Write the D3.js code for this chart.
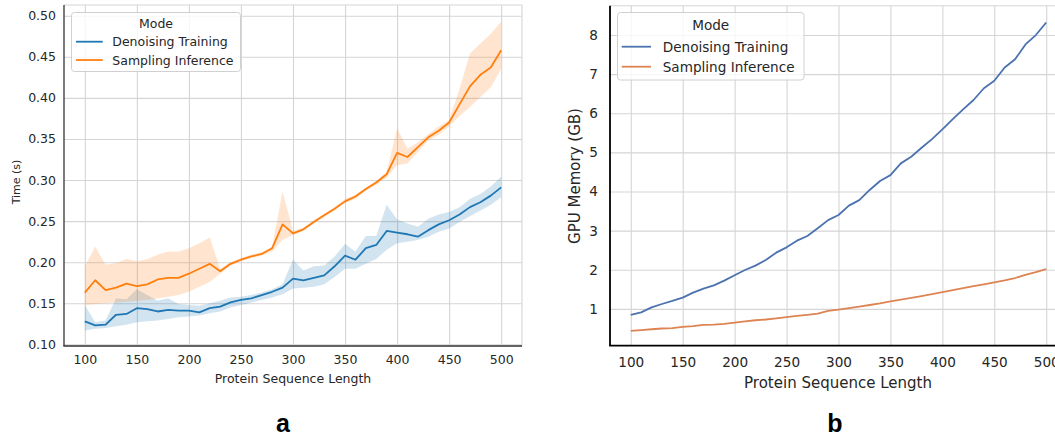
<!DOCTYPE html>
<html><head><meta charset="utf-8">
<script src="https://cdn.jsdelivr.net/npm/d3@7"></script>
<style>body{margin:0;background:#fff} svg{display:block}</style>
</head><body><svg id="c" width="1055" height="433"></svg>
<script>
// ---------------- data ----------------
const lengths = [100,110,120,130,140,150,160,170,180,190,200,210,220,230,240,250,260,270,280,290,300,
                 310,320,330,340,350,360,370,380,390,400,410,420,430,440,450,460,470,480,490,500];
const modes = ["Denoising Training", "Sampling Inference"];

// panel a: time (s), mean and 95% band
const timeTrainMean = [0.128,0.123,0.124,0.136,0.137,0.144,0.143,0.140,0.142,0.141,0.141,0.139,0.144,0.146,0.151,0.154,0.156,0.160,0.164,0.169,0.180,
                       0.178,0.181,0.184,0.195,0.208,0.203,0.217,0.221,0.238,0.236,0.234,0.231,0.239,0.246,0.251,0.258,0.267,0.273,0.281,0.291];
const timeTrainLow  = [0.117,0.119,0.120,0.122,0.124,0.127,0.128,0.129,0.131,0.133,0.134,0.135,0.138,0.140,0.145,0.148,0.151,0.154,0.157,0.161,0.168,
                       0.169,0.170,0.173,0.182,0.192,0.192,0.198,0.204,0.215,0.223,0.225,0.227,0.231,0.237,0.241,0.249,0.256,0.263,0.270,0.279];
const timeTrainHigh = [0.148,0.127,0.129,0.156,0.155,0.167,0.160,0.153,0.156,0.149,0.148,0.147,0.150,0.153,0.157,0.158,0.160,0.163,0.167,0.173,0.203,
                       0.190,0.195,0.196,0.207,0.222,0.213,0.232,0.232,0.270,0.252,0.247,0.243,0.253,0.258,0.261,0.267,0.277,0.283,0.292,0.304];
const timeInferMean = [0.163,0.178,0.166,0.169,0.174,0.171,0.173,0.179,0.181,0.181,0.186,0.192,0.198,0.189,0.198,0.203,0.207,0.210,0.217,0.246,0.235,
                       0.240,0.249,0.257,0.265,0.274,0.280,0.289,0.297,0.307,0.333,0.328,0.340,0.352,0.360,0.370,0.392,0.414,0.428,0.437,0.458];
const timeInferLow  = [0.148,0.149,0.150,0.151,0.152,0.153,0.154,0.156,0.158,0.160,0.164,0.170,0.176,0.186,0.196,0.201,0.205,0.208,0.213,0.227,0.233,
                       0.238,0.247,0.255,0.263,0.272,0.277,0.287,0.294,0.303,0.318,0.320,0.334,0.348,0.355,0.365,0.378,0.389,0.401,0.413,0.435];
const timeInferHigh = [0.195,0.219,0.197,0.199,0.204,0.201,0.204,0.209,0.213,0.213,0.217,0.223,0.230,0.192,0.200,0.205,0.209,0.212,0.219,0.286,0.238,
                       0.242,0.251,0.259,0.267,0.277,0.282,0.291,0.299,0.310,0.363,0.338,0.346,0.356,0.365,0.373,0.411,0.454,0.466,0.478,0.493];

// panel b: GPU memory (GB)
const memTrain = [0.845,0.913,1.041,1.126,1.203,1.288,1.416,1.518,1.603,1.722,1.859,1.995,2.106,2.250,2.438,2.574,2.744,2.864,3.060,3.270,3.400,
                  3.640,3.780,4.040,4.270,4.420,4.720,4.890,5.120,5.340,5.590,5.850,6.100,6.340,6.640,6.830,7.170,7.380,7.760,8.000,8.320];
const memInfer = [0.440,0.460,0.480,0.500,0.510,0.540,0.560,0.590,0.600,0.620,0.650,0.680,0.710,0.730,0.760,0.790,0.820,0.850,0.880,0.950,0.980,
                  1.020,1.060,1.100,1.140,1.190,1.240,1.280,1.330,1.380,1.430,1.480,1.530,1.580,1.630,1.680,1.730,1.790,1.870,1.940,2.020];

const lengthTicks = [100,150,200,250,300,350,400,450,500];
const timeTicks = [0.10,0.15,0.20,0.25,0.30,0.35,0.40,0.45,0.50];
const memTicks = [1,2,3,4,5,6,7,8];

// ---------------- drawing ----------------
const svg = d3.select("#c");
const FONT = "DejaVu Sans";
const TXT = "#262626";
const GRID = "#d5d5d5";

function panel(o) {
  const g = svg.append("g");
  const x = d3.scaleLinear().domain([80, 520]).range([o.x0, o.x1]);
  const y = d3.scaleLinear().domain(o.ydom).range([o.y1, o.y0]);
  const clipId = "clip" + o.id;
  svg.append("clipPath").attr("id", clipId).append("rect")
    .attr("x", o.x0).attr("y", o.y0).attr("width", o.x1 - o.x0).attr("height", o.y1 - o.y0);

  // grid
  g.append("g").attr("transform", `translate(0,${o.y1})`)
    .call(d3.axisBottom(x).tickValues(lengthTicks).tickSize(-(o.y1 - o.y0)).tickFormat(""))
    .call(s => s.select(".domain").remove())
    .selectAll("line").attr("stroke", GRID).attr("stroke-width", 1.1);
  g.append("g").attr("transform", `translate(${o.x0},0)`)
    .call(d3.axisLeft(y).tickValues(o.yticks).tickSize(-(o.x1 - o.x0)).tickFormat(""))
    .call(s => s.select(".domain").remove())
    .selectAll("line").attr("stroke", GRID).attr("stroke-width", 1.1);

  // top / right spines (light)
  g.append("line").attr("x1", o.x0).attr("x2", o.x1).attr("y1", o.y0).attr("y2", o.y0)
    .attr("stroke", GRID).attr("stroke-width", 1.1);
  g.append("line").attr("x1", o.x1).attr("x2", o.x1).attr("y1", o.y0).attr("y2", o.y1)
    .attr("stroke", GRID).attr("stroke-width", 1.1);

  const data = lengths.map((L, i) => ({L, i}));
  const plot = g.append("g").attr("clip-path", `url(#${clipId})`);
  o.series.forEach(s => {
    if (s.low) {
      plot.append("path").datum(data)
        .attr("d", d3.area().x(d => x(d.L)).y0(d => y(s.low[d.i])).y1(d => y(s.high[d.i])))
        .attr("fill", s.color).attr("fill-opacity", 0.2).attr("stroke", "none");
    }
  });
  o.series.forEach(s => {
    plot.append("path").datum(data)
      .attr("d", d3.line().x(d => x(d.L)).y(d => y(s.mean[d.i])))
      .attr("fill", "none").attr("stroke", s.color).attr("stroke-width", o.lw)
      .attr("stroke-linejoin", "round").attr("stroke-linecap", "butt");
  });

  // left / bottom spines (dark)
  g.append("line").attr("x1", o.x0).attr("x2", o.x0).attr("y1", o.y0).attr("y2", o.y1)
    .attr("stroke", o.spine).attr("stroke-width", o.spineW);
  g.append("line").attr("x1", o.x0 - o.spineW/2).attr("x2", o.x1).attr("y1", o.y1).attr("y2", o.y1)
    .attr("stroke", o.spine).attr("stroke-width", o.spineW);

  // tick labels
  const xa = g.append("g").attr("transform", `translate(0,${o.y1})`)
    .call(d3.axisBottom(x).tickValues(lengthTicks).tickSize(0).tickPadding(o.xpad).tickFormat(d3.format("d")));
  xa.select(".domain").remove();
  xa.selectAll("text").attr("font-family", FONT).attr("font-size", o.tickFs).attr("fill", TXT);
  const ya = g.append("g").attr("transform", `translate(${o.x0},0)`)
    .call(d3.axisLeft(y).tickValues(o.yticks).tickSize(0).tickPadding(o.ypad).tickFormat(o.yfmt));
  ya.select(".domain").remove();
  ya.selectAll("text").attr("font-family", FONT).attr("font-size", o.tickFs).attr("fill", TXT);

  // axis titles
  g.append("text").attr("x", o.xlabX).attr("y", o.xlabY).attr("text-anchor", "middle")
    .attr("dominant-baseline", "central")
    .attr("font-family", FONT).attr("font-size", o.labFs).attr("fill", TXT).text("Protein Sequence Length");
  g.append("text").attr("transform", `translate(${o.ylabX},${o.ylabY}) rotate(-90)`)
    .attr("text-anchor", "middle").attr("dominant-baseline", "central")
    .attr("font-family", FONT).attr("font-size", o.ylabFs).attr("fill", TXT).text(o.ylabel);

  // legend
  const lg = g.append("g");
  const L = o.legend;
  lg.append("rect").attr("x", L.x0).attr("y", L.y0).attr("width", L.x1 - L.x0).attr("height", L.y1 - L.y0)
    .attr("rx", 3).attr("fill", "#fff").attr("fill-opacity", 0.8).attr("stroke", "#d0d0d0").attr("stroke-width", 1);
  lg.append("text").attr("x", L.titleX).attr("y", L.titleY).attr("text-anchor", "middle")
    .attr("dominant-baseline", "central").attr("font-family", FONT).attr("font-size", L.fs).attr("fill", TXT).text("Mode");
  o.series.forEach((s, k) => {
    const yy = L.rows[k];
    lg.append("line").attr("x1", L.lx0).attr("x2", L.lx1).attr("y1", yy).attr("y2", yy)
      .attr("stroke", s.color).attr("stroke-width", o.lw);
    lg.append("text").attr("x", L.tx).attr("y", yy).attr("dominant-baseline", "central")
      .attr("font-family", FONT).attr("font-size", L.fs).attr("fill", TXT).text(modes[k]);
  });

  // panel letter
  svg.append("text").attr("x", o.letterX).attr("y", 432).attr("text-anchor", "middle")
    .attr("font-family", "Liberation Sans, Arial, sans-serif").attr("font-weight", "bold")
    .attr("font-size", 25).attr("fill", "#000").text(o.letter);
}

panel({
  id: "a", x0: 64, x1: 522, y0: 5, y1: 346, ydom: [0.098, 0.513], yticks: timeTicks,
  yfmt: d3.format(".2f"), lw: 1.8, spine: "#333", spineW: 1.3,
  tickFs: 12.5, labFs: 12.5, ylabFs: 11, xpad: 9, ypad: 8,
  xlabX: 293, xlabY: 378, ylabX: 16, ylabY: 182, ylabel: "Time (s)",
  series: [
    {mean: timeTrainMean, low: timeTrainLow, high: timeTrainHigh, color: "#1f77b4"},
    {mean: timeInferMean, low: timeInferLow, high: timeInferHigh, color: "#ff7f0e"}
  ],
  legend: {x0: 71.5, x1: 240.5, y0: 12.5, y1: 71.5, titleX: 156, titleY: 23, rows: [41.7, 60],
           lx0: 76, lx1: 102.7, tx: 112.3, fs: 12.5},
  letter: "a", letterX: 283
});

panel({
  id: "b", x0: 610, x1: 1067, y0: 5.7, y1: 345.7, ydom: [0.06, 8.75], yticks: memTicks,
  yfmt: d3.format("d"), lw: 1.8, spine: "#000", spineW: 1.8,
  tickFs: 13.6, labFs: 15, ylabFs: 15, xpad: 12, ypad: 12,
  xlabX: 838, xlabY: 383, ylabX: 575, ylabY: 176, ylabel: "GPU Memory (GB)",
  series: [
    {mean: memTrain, color: "#4c72b0"},
    {mean: memInfer, color: "#dd8452"}
  ],
  legend: {x0: 617.5, x1: 804, y0: 12.5, y1: 80, titleX: 710.7, titleY: 25, rows: [46.7, 66.7],
           lx0: 621.7, lx1: 651, tx: 662.7, fs: 13.6},
  letter: "b", letterX: 835
});
</script></body></html>
